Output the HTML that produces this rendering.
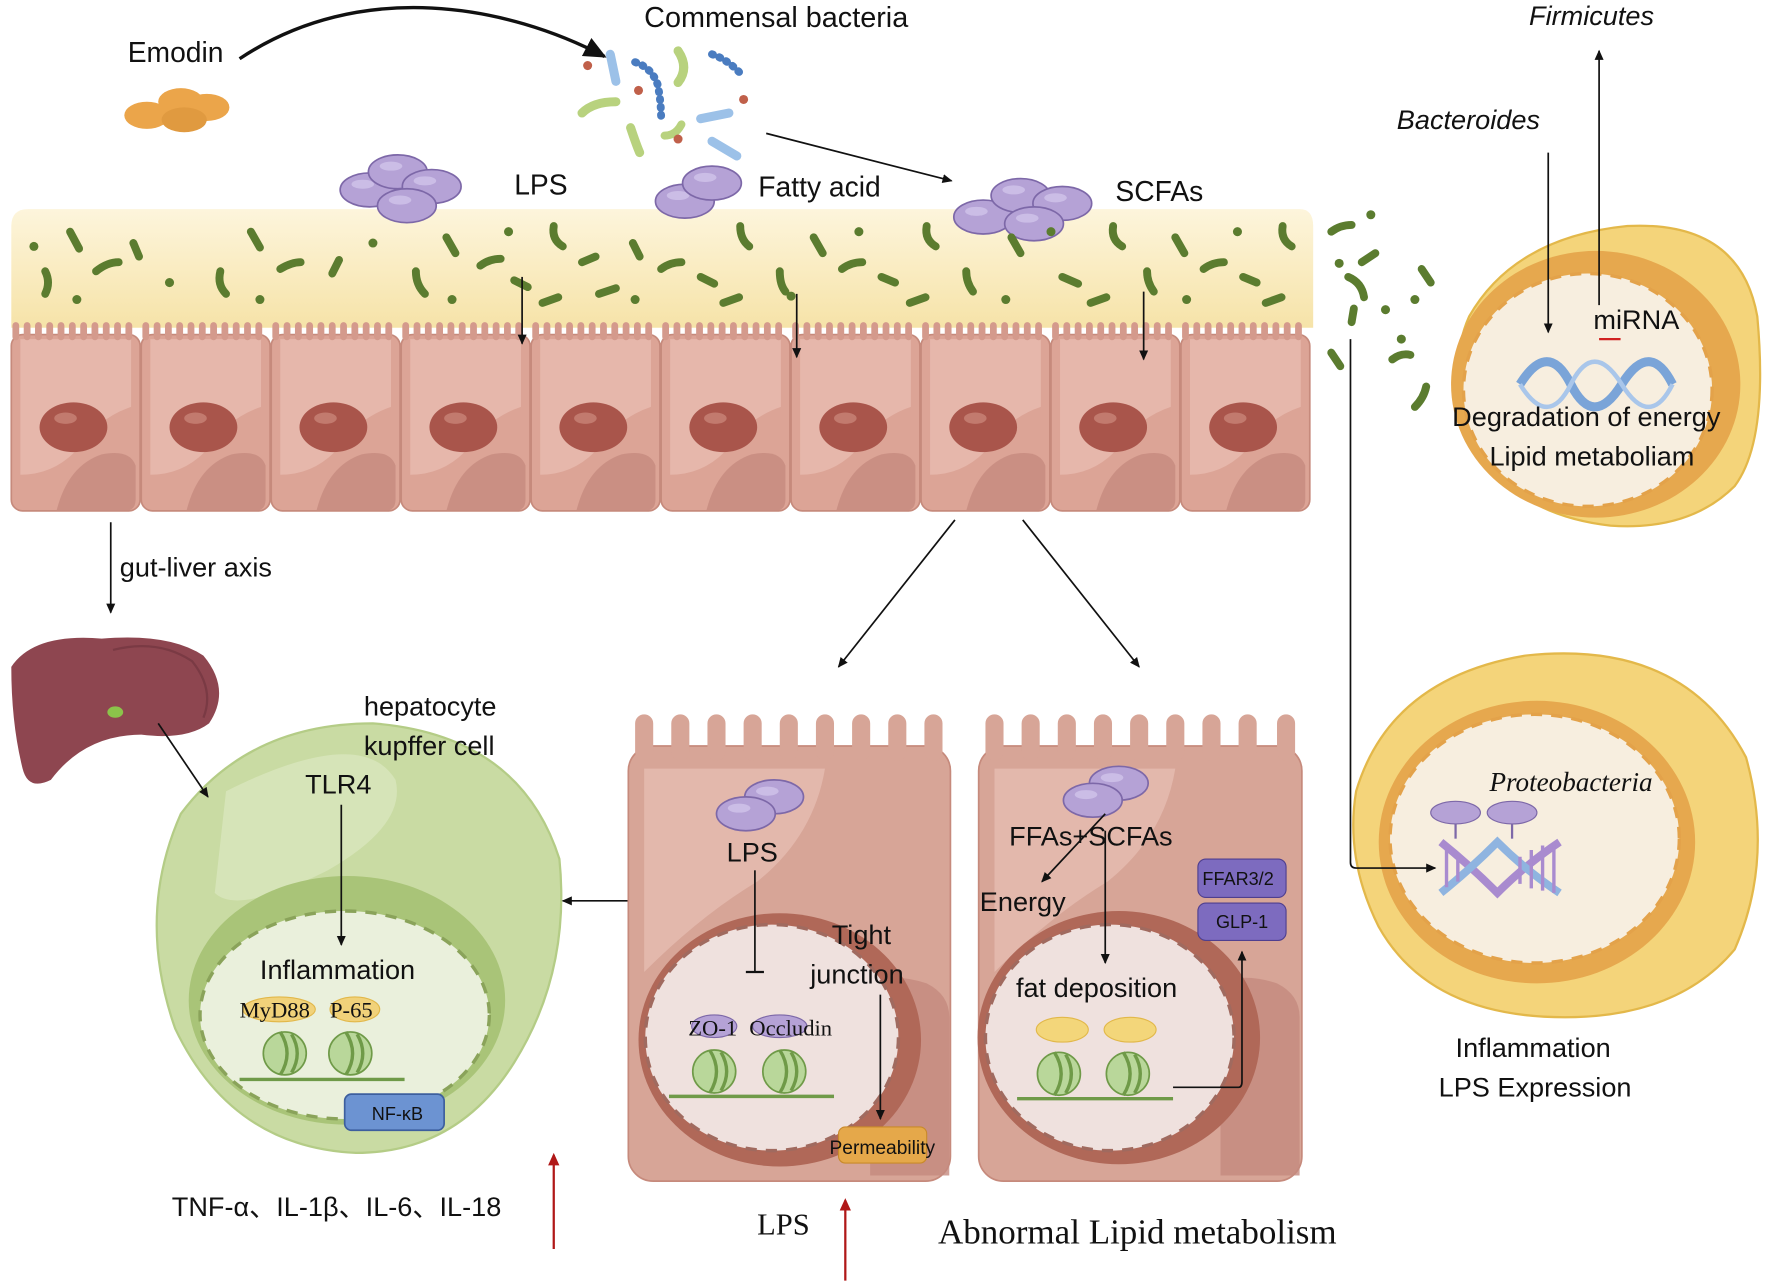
<!DOCTYPE html>
<html><head><meta charset="utf-8"><style>
html,body{margin:0;padding:0;background:#fff;}
svg{display:block;}
text{font-family:"Liberation Sans","Noto Sans CJK SC",sans-serif;fill:#111;}
.serif{font-family:"Liberation Serif",serif;}
</style></head><body>
<svg width="1772" height="1284" viewBox="0 0 1568 1136" preserveAspectRatio="none" xmlns="http://www.w3.org/2000/svg">
<defs>
<marker id="ar" markerWidth="10" markerHeight="10" refX="8" refY="5" orient="auto" markerUnits="userSpaceOnUse"><path d="M0,1 L9,5 L0,9 Z" fill="#111"/></marker>
<marker id="arr" markerWidth="12" markerHeight="12" refX="9" refY="6" orient="auto" markerUnits="userSpaceOnUse"><path d="M0,1 L11,6 L0,11 Z" fill="#b01818"/></marker>
<marker id="arb" markerWidth="22" markerHeight="22" refX="18" refY="11" orient="auto" markerUnits="userSpaceOnUse"><path d="M0,2 L20,11 L0,20 Z" fill="#111"/></marker>
<linearGradient id="muc" x1="0" y1="0" x2="0" y2="1"><stop offset="0" stop-color="#fdf5dc"/><stop offset="1" stop-color="#f6e3a8"/></linearGradient>
<g id="cell">
 <rect x="0" y="296" width="114" height="156" rx="10" fill="#dca496" stroke="#c68a7c" stroke-width="1.5"/>
 <path d="M8,300 h98 v60 q-30,10 -50,40 q-20,20 -48,20 z" fill="#e8bcb0" opacity=".8"/>
 <path d="M40,452 q10,-40 40,-50 q25,-5 30,10 v30 q0,10 -10,10 z" fill="#c68a7e" opacity=".8"/>
 <ellipse cx="55" cy="378" rx="30" ry="22" fill="#a9554b"/>
 <ellipse cx="48" cy="370" rx="10" ry="5" fill="#c27a6e"/>
 <path d="M4,298 v-10 M14,298 v-10 M24,298 v-10 M34,298 v-10 M44,298 v-10 M54,298 v-10 M64,298 v-10 M74,298 v-10 M84,298 v-10 M94,298 v-10 M104,298 v-10" stroke="#d49a8c" stroke-width="6" stroke-linecap="round"/>
</g>
<g id="pill"><ellipse cx="0" cy="0" rx="26" ry="15" fill="#b5a2d6" stroke="#7d68a8" stroke-width="1.5"/><ellipse cx="-6" cy="-5" rx="10" ry="4" fill="#cbbde6"/></g>
<g id="nuc"><circle cx="0" cy="0" r="19" fill="#b9d79a" stroke="#6f9a48" stroke-width="1.5"/><path d="M-4,-19 q12,19 0,38 M6,-17 q10,17 0,34" stroke="#6f9a48" stroke-width="3" fill="none"/></g>
</defs>

<!-- Emodin -->
<text x="113" y="55" font-size="25">Emodin</text>
<ellipse cx="130" cy="102" rx="20" ry="12" fill="#eba54a"/><ellipse cx="160" cy="90" rx="20" ry="12" fill="#eba54a"/><ellipse cx="183" cy="95" rx="20" ry="12" fill="#eba54a"/><ellipse cx="163" cy="106" rx="20" ry="11" fill="#e09a40"/>
<path d="M212,52 C320,-20 450,5 535,50" fill="none" stroke="#111" stroke-width="3" marker-end="url(#arb)"/>
<text x="570" y="24" font-size="25.5">Commensal bacteria</text>
<g stroke-linecap="round" fill="none">
<line x1="540" y1="48" x2="545" y2="72" stroke="#9cc1e8" stroke-width="8"/>
<line x1="620" y1="105" x2="645" y2="100" stroke="#9cc1e8" stroke-width="8"/>
<line x1="630" y1="125" x2="652" y2="138" stroke="#9cc1e8" stroke-width="8"/>
<path d="M515,100 q10,-10 30,-10" stroke="#b8d27e" stroke-width="8"/>
<path d="M600,45 q10,15 0,28" stroke="#b8d27e" stroke-width="8"/>
<path d="M558,113 q5,15 8,22" stroke="#b8d27e" stroke-width="8"/>
<path d="M588,120 q10,0 15,-10" stroke="#b8d27e" stroke-width="7"/>
<path d="M562,55 q15,5 20,20 q3,15 3,30" stroke="#4a7cc0" stroke-width="7" stroke-dasharray="1 6"/>
<path d="M630,48 q15,5 28,20" stroke="#4a7cc0" stroke-width="7" stroke-dasharray="1 6"/>
</g>
<circle cx="520" cy="58" r="4" fill="#c0604a"/><circle cx="565" cy="80" r="4" fill="#c0604a"/><circle cx="658" cy="88" r="4" fill="#c0604a"/><circle cx="600" cy="123" r="4" fill="#c0604a"/>
<line x1="678" y1="118" x2="842" y2="160" stroke="#111" stroke-width="1.5" marker-end="url(#ar)"/>

<path d="M10,290 V200 q0,-15 15,-15 H1150 q12,0 12,15 V290 Z" fill="url(#muc)"/>
<use href="#pill" x="327" y="168"/><use href="#pill" x="352" y="152"/><use href="#pill" x="382" y="165"/><use href="#pill" x="360" y="182"/>
<text x="455" y="172" font-size="25">LPS</text>
<use href="#pill" x="606" y="178"/><use href="#pill" x="630" y="162"/>
<text x="671" y="174" font-size="25">Fatty acid</text>
<use href="#pill" x="870" y="192"/><use href="#pill" x="903" y="173"/><use href="#pill" x="940" y="180"/><use href="#pill" x="915" y="198"/>
<text x="987" y="178" font-size="25">SCFAs</text>

<g stroke="#5b7c2f" stroke-width="7" stroke-linecap="round" fill="none">
<path d="M40,240 q5,10 0,20"/><path d="M62,205 l8,15"/><path d="M85,240 q10,-8 20,-8"/><path d="M118,215 l5,12"/><path d="M195,240 q-3,12 5,20"/><path d="M222,205 l8,14"/><path d="M248,238 q10,-6 18,-6"/><path d="M300,230 l-6,12"/><path d="M368,240 q0,12 8,20"/><path d="M395,210 l8,14"/><path d="M425,235 q8,-6 18,-6"/><path d="M455,248 l12,6"/><path d="M490,200 q-2,12 8,18"/><path d="M515,232 l12,-5"/><path d="M530,260 l15,-5"/><path d="M560,215 l6,12"/><path d="M585,238 q8,-6 18,-6"/><path d="M620,245 l12,6"/><path d="M655,200 q0,12 8,18"/><path d="M690,240 q0,12 5,18"/><path d="M720,210 l8,14"/><path d="M745,238 q8,-6 18,-6"/><path d="M780,245 l12,5"/><path d="M820,200 q-2,12 8,18"/><path d="M855,240 q0,10 6,18"/><path d="M895,210 l8,14"/><path d="M940,245 l14,6"/><path d="M985,200 q-2,12 8,18"/><path d="M1015,240 q0,10 6,18"/><path d="M1040,210 l8,14"/><path d="M1065,238 q8,-6 18,-6"/><path d="M1100,245 l12,5"/><path d="M1135,200 q-2,12 8,18"/><path d="M965,268 l14,-5"/><path d="M805,268 l14,-5"/><path d="M640,268 l14,-5"/><path d="M480,268 l14,-5"/><path d="M1120,268 l14,-5"/>
<path d="M1178,205 q8,-6 18,-6"/><path d="M1205,232 l12,-8"/><path d="M1193,245 q12,5 14,18"/><path d="M1196,285 l2,-12"/><path d="M1178,312 l8,12"/><path d="M1232,318 q8,-6 16,-4"/><path d="M1258,238 l8,12"/><path d="M1252,360 q8,-8 10,-18"/>
</g>
<g fill="#5b7c2f"><circle cx="30" cy="218" r="4"/><circle cx="68" cy="265" r="4"/><circle cx="150" cy="250" r="4"/><circle cx="230" cy="265" r="4"/><circle cx="330" cy="215" r="4"/><circle cx="400" cy="265" r="4"/><circle cx="450" cy="205" r="4"/><circle cx="562" cy="265" r="4"/><circle cx="700" cy="262" r="4"/><circle cx="760" cy="205" r="4"/><circle cx="890" cy="265" r="4"/><circle cx="930" cy="205" r="4"/><circle cx="1050" cy="265" r="4"/><circle cx="1095" cy="205" r="4"/><circle cx="1213" cy="190" r="4"/><circle cx="1185" cy="233" r="4"/><circle cx="1226" cy="274" r="4"/><circle cx="1252" cy="265" r="4"/><circle cx="1240" cy="300" r="4"/></g>

<use href="#cell" x="10"/><use href="#cell" x="125"/><use href="#cell" x="240"/><use href="#cell" x="355"/><use href="#cell" x="470"/><use href="#cell" x="585"/><use href="#cell" x="700"/><use href="#cell" x="815"/><use href="#cell" x="930"/><use href="#cell" x="1045"/>
<line x1="462" y1="245" x2="462" y2="304" stroke="#111" stroke-width="1.5" marker-end="url(#ar)"/>
<line x1="705" y1="260" x2="705" y2="316" stroke="#111" stroke-width="1.5" marker-end="url(#ar)"/>
<line x1="1012" y1="258" x2="1012" y2="318" stroke="#111" stroke-width="1.5" marker-end="url(#ar)"/>

<line x1="98" y1="462" x2="98" y2="542" stroke="#111" stroke-width="1.5" marker-end="url(#ar)"/>
<text x="106" y="510" font-size="24">gut-liver axis</text>
<path d="M10,590 q20,-30 80,-25 q60,-5 90,15 q25,30 5,60 q-20,15 -60,10 q-50,0 -80,40 q-20,10 -25,-10 q-10,-40 -10,-90 z" fill="#8e4650"/>
<path d="M100,575 q40,-10 70,10 q20,25 10,50" fill="none" stroke="#7a3a44" stroke-width="2"/>
<ellipse cx="102" cy="630" rx="7" ry="5" fill="#8bc34a"/>

<!-- green cell -->
<path d="M160,720 q60,-80 170,-80 q130,10 165,120 q10,100 -40,180 q-50,80 -140,80 q-110,-5 -160,-110 q-35,-100 5,-190 z" fill="#c9dba3" stroke="#b4cc86" stroke-width="2"/>
<path d="M200,700 q120,-60 150,-10 q10,40 -60,80 q-80,40 -100,20 z" fill="#dbe8c0" opacity=".7"/>
<ellipse cx="307" cy="885" rx="140" ry="110" fill="#a9c478"/>
<ellipse cx="305" cy="898" rx="128" ry="92" fill="#eaf0dc" stroke="#8aa35a" stroke-width="3" stroke-dasharray="10 8"/>
<line x1="140" y1="640" x2="184" y2="705" stroke="#111" stroke-width="1.5" marker-end="url(#ar)"/>
<text x="322" y="633" font-size="24">hepatocyte</text>
<text x="322" y="668" font-size="24">kupffer cell</text>
<text x="270" y="702" font-size="24">TLR4</text>
<line x1="302" y1="712" x2="302" y2="836" stroke="#111" stroke-width="1.5" marker-end="url(#ar)"/>
<text x="230" y="866" font-size="24">Inflammation</text>
<ellipse cx="247" cy="893" rx="32" ry="11" fill="#f1d27a" stroke="#e2b84a"/><ellipse cx="314" cy="893" rx="22" ry="11" fill="#f1d27a" stroke="#e2b84a"/>
<text x="212" y="900" font-size="20" class="serif">MyD88</text><text x="292" y="900" font-size="20" class="serif">P-65</text>
<use href="#nuc" x="252" y="932"/><use href="#nuc" x="310" y="932"/>
<line x1="212" y1="955" x2="358" y2="955" stroke="#6f9a48" stroke-width="3"/>
<rect x="305" y="968" width="88" height="32" rx="6" fill="#6c93d2" stroke="#3d5f9e" stroke-width="1.5"/>
<text x="329" y="991" font-size="16">NF-κB</text>
<line x1="572" y1="797" x2="498" y2="797" stroke="#111" stroke-width="1.5" marker-end="url(#ar)"/>
<text x="152" y="1076" font-size="24">TNF-α、IL-1β、IL-6、IL-18</text>
<line x1="490" y1="1105" x2="490" y2="1022" stroke="#b01818" stroke-width="2" marker-end="url(#arr)"/>

<line x1="845" y1="460" x2="742" y2="590" stroke="#111" stroke-width="1.5" marker-end="url(#ar)"/>
<line x1="905" y1="460" x2="1008" y2="590" stroke="#111" stroke-width="1.5" marker-end="url(#ar)"/>

<!-- middle cell -->
<rect x="556" y="660" width="285" height="385" rx="22" fill="#d7a597" stroke="#c68a7c" stroke-width="1.5"/>
<g stroke="#d7a597" stroke-width="16" stroke-linecap="round"><path d="M570,640 v25 M602,640 v25 M634,640 v25 M666,640 v25 M698,640 v25 M730,640 v25 M762,640 v25 M794,640 v25 M826,640 v25"/></g>
<path d="M570,680 h160 q-10,60 -60,100 q-50,30 -100,80 z" fill="#e6bdb1" opacity=".8"/>
<path d="M770,1040 v-170 q20,-10 50,0 q20,10 20,30 v140 z" fill="#c48a7e" opacity=".8"/>
<ellipse cx="690" cy="920" rx="125" ry="112" fill="#b06858"/>
<ellipse cx="683" cy="918" rx="112" ry="100" fill="#efe1de" stroke="#a06a5f" stroke-width="3" stroke-dasharray="10 8"/>
<use href="#pill" x="685" y="705"/><use href="#pill" x="660" y="720"/>
<text x="643" y="762" font-size="24">LPS</text>
<line x1="668" y1="770" x2="668" y2="860" stroke="#111" stroke-width="1.5"/><line x1="660" y1="860" x2="676" y2="860" stroke="#111" stroke-width="2"/>
<text x="736" y="835" font-size="24">Tight</text><text x="717" y="870" font-size="24">junction</text>
<line x1="779" y1="880" x2="779" y2="990" stroke="#111" stroke-width="1.5" marker-end="url(#ar)"/>
<ellipse cx="632" cy="908" rx="20" ry="10" fill="#b5a2d6" stroke="#7d68a8"/><ellipse cx="690" cy="908" rx="24" ry="10" fill="#b5a2d6" stroke="#7d68a8"/>
<text x="609" y="916" font-size="20" class="serif">ZO-1</text><text x="663" y="916" font-size="20" class="serif">Occludin</text>
<use href="#nuc" x="632" y="948"/><use href="#nuc" x="694" y="948"/>
<line x1="592" y1="970" x2="738" y2="970" stroke="#6f9a48" stroke-width="3"/>
<rect x="742" y="997" width="78" height="32" rx="6" fill="#e5a84a" stroke="#c98a2a"/>
<text x="734" y="1021" font-size="17">Permeability</text>
<text x="670" y="1092" font-size="27" class="serif">LPS</text>
<line x1="748" y1="1133" x2="748" y2="1062" stroke="#b01818" stroke-width="2" marker-end="url(#arr)"/>

<!-- right cell -->
<rect x="866" y="660" width="286" height="385" rx="22" fill="#d7a597" stroke="#c68a7c" stroke-width="1.5"/>
<g stroke="#d7a597" stroke-width="16" stroke-linecap="round"><path d="M880,640 v25 M912,640 v25 M944,640 v25 M976,640 v25 M1008,640 v25 M1040,640 v25 M1072,640 v25 M1104,640 v25 M1138,640 v25"/></g>
<path d="M880,680 h160 q-10,60 -60,100 q-50,30 -100,80 z" fill="#e6bdb1" opacity=".8"/>
<path d="M1080,1040 v-170 q20,-10 50,0 q20,10 20,30 v140 z" fill="#c48a7e" opacity=".8"/>
<ellipse cx="990" cy="918" rx="125" ry="112" fill="#b06858"/>
<ellipse cx="982" cy="918" rx="110" ry="100" fill="#efe1de" stroke="#a06a5f" stroke-width="3" stroke-dasharray="10 8"/>
<use href="#pill" x="990" y="693"/><use href="#pill" x="967" y="708"/>
<text x="893" y="748" font-size="24">FFAs+SCFAs</text>
<line x1="978" y1="720" x2="922" y2="780" stroke="#111" stroke-width="1.5" marker-end="url(#ar)"/>
<line x1="978" y1="735" x2="978" y2="852" stroke="#111" stroke-width="1.5" marker-end="url(#ar)"/>
<text x="867" y="806" font-size="24">Energy</text>
<rect x="1060" y="760" width="78" height="34" rx="7" fill="#7d6bbf" stroke="#4f3f8f"/>
<text x="1064" y="783" font-size="16">FFAR3/2</text>
<rect x="1060" y="799" width="78" height="33" rx="7" fill="#7d6bbf" stroke="#4f3f8f"/>
<text x="1076" y="821" font-size="16">GLP-1</text>
<text x="899" y="882" font-size="24">fat deposition</text>
<ellipse cx="940" cy="911" rx="23" ry="11" fill="#f3d67a" stroke="#e2b84a"/><ellipse cx="1000" cy="911" rx="23" ry="11" fill="#f3d67a" stroke="#e2b84a"/>
<use href="#nuc" x="937" y="950"/><use href="#nuc" x="998" y="950"/>
<line x1="900" y1="972" x2="1038" y2="972" stroke="#6f9a48" stroke-width="3"/>
<path d="M1038,962 H1096 q3,0 3,-5 V842" fill="none" stroke="#111" stroke-width="1.5" marker-end="url(#ar)"/>
<text x="830" y="1100" font-size="31" class="serif">Abnormal Lipid metabolism</text>

<!-- top right yellow cell -->
<path d="M1300,280 q40,-70 140,-80 q100,-5 115,80 q10,110 -20,150 q-40,40 -110,35 q-90,-10 -125,-80 q-20,-60 0,-105 z" fill="#f4d47a" stroke="#e3b84a" stroke-width="2"/>
<ellipse cx="1412" cy="340" rx="128" ry="118" fill="#e6a84e"/>
<ellipse cx="1405" cy="345" rx="110" ry="103" fill="#f7eedf" stroke="#e3a24a" stroke-width="3" stroke-dasharray="10 8"/>
<text x="1236" y="114" font-size="24" font-style="italic">Bacteroides</text>
<text x="1353" y="22" font-size="24" font-style="italic">Firmicutes</text>
<line x1="1370" y1="135" x2="1370" y2="294" stroke="#111" stroke-width="1.5" marker-end="url(#ar)"/>
<line x1="1415" y1="270" x2="1415" y2="45" stroke="#111" stroke-width="1.5" marker-end="url(#ar)"/>
<text x="1410" y="291" font-size="24">miRNA</text>
<line x1="1415" y1="300" x2="1434" y2="300" stroke="#d02020" stroke-width="2"/>
<path d="M1345,340 q25,-40 45,0 q20,40 45,0 q25,-40 45,0" fill="none" stroke="#7aa4d8" stroke-width="8"/>
<path d="M1345,340 q25,40 45,0 q20,-40 45,0 q25,40 45,0" fill="none" stroke="#a9c6ea" stroke-width="4"/>
<text x="1285" y="377" font-size="24">Degradation of energy</text>
<text x="1318" y="412" font-size="24">Lipid metaboliam</text>

<!-- bottom right yellow cell -->
<path d="M1200,700 q30,-100 150,-120 q140,-15 195,90 q25,90 -10,170 q-50,60 -150,60 q-120,0 -165,-80 q-30,-60 -20,-120 z" fill="#f4d47a" stroke="#e3b84a" stroke-width="2"/>
<ellipse cx="1360" cy="745" rx="140" ry="125" fill="#e6a84e"/>
<ellipse cx="1358" cy="742" rx="128" ry="110" fill="#f7eedf" stroke="#e3a24a" stroke-width="3" stroke-dasharray="10 8"/>
<text x="1318" y="700" font-size="24" font-style="italic" class="serif">Proteobacteria</text>
<ellipse cx="1288" cy="719" rx="22" ry="10" fill="#b5a2d6" stroke="#7d68a8"/><ellipse cx="1338" cy="719" rx="22" ry="10" fill="#b5a2d6" stroke="#7d68a8"/>
<line x1="1288" y1="729" x2="1288" y2="742" stroke="#7d68a8" stroke-width="2"/><line x1="1338" y1="729" x2="1338" y2="742" stroke="#7d68a8" stroke-width="2"/>
<path d="M1275,745 q25,20 50,45 q25,-25 55,-45" fill="none" stroke="#a98bcf" stroke-width="7"/>
<path d="M1275,790 q25,-20 50,-45 q25,25 55,45" fill="none" stroke="#8fb4e0" stroke-width="7"/>
<g stroke="#a98bcf" stroke-width="3"><path d="M1280,750 v35 M1290,758 v22 M1345,758 v24 M1355,752 v34 M1365,748 v40 M1375,746 v44"/></g>
<path d="M1195,300 V763 q0,5 5,5 H1270" fill="none" stroke="#111" stroke-width="1.5" marker-end="url(#ar)"/>
<text x="1288" y="935" font-size="24">Inflammation</text>
<text x="1273" y="970" font-size="24">LPS Expression</text>
</svg>
</body></html>
